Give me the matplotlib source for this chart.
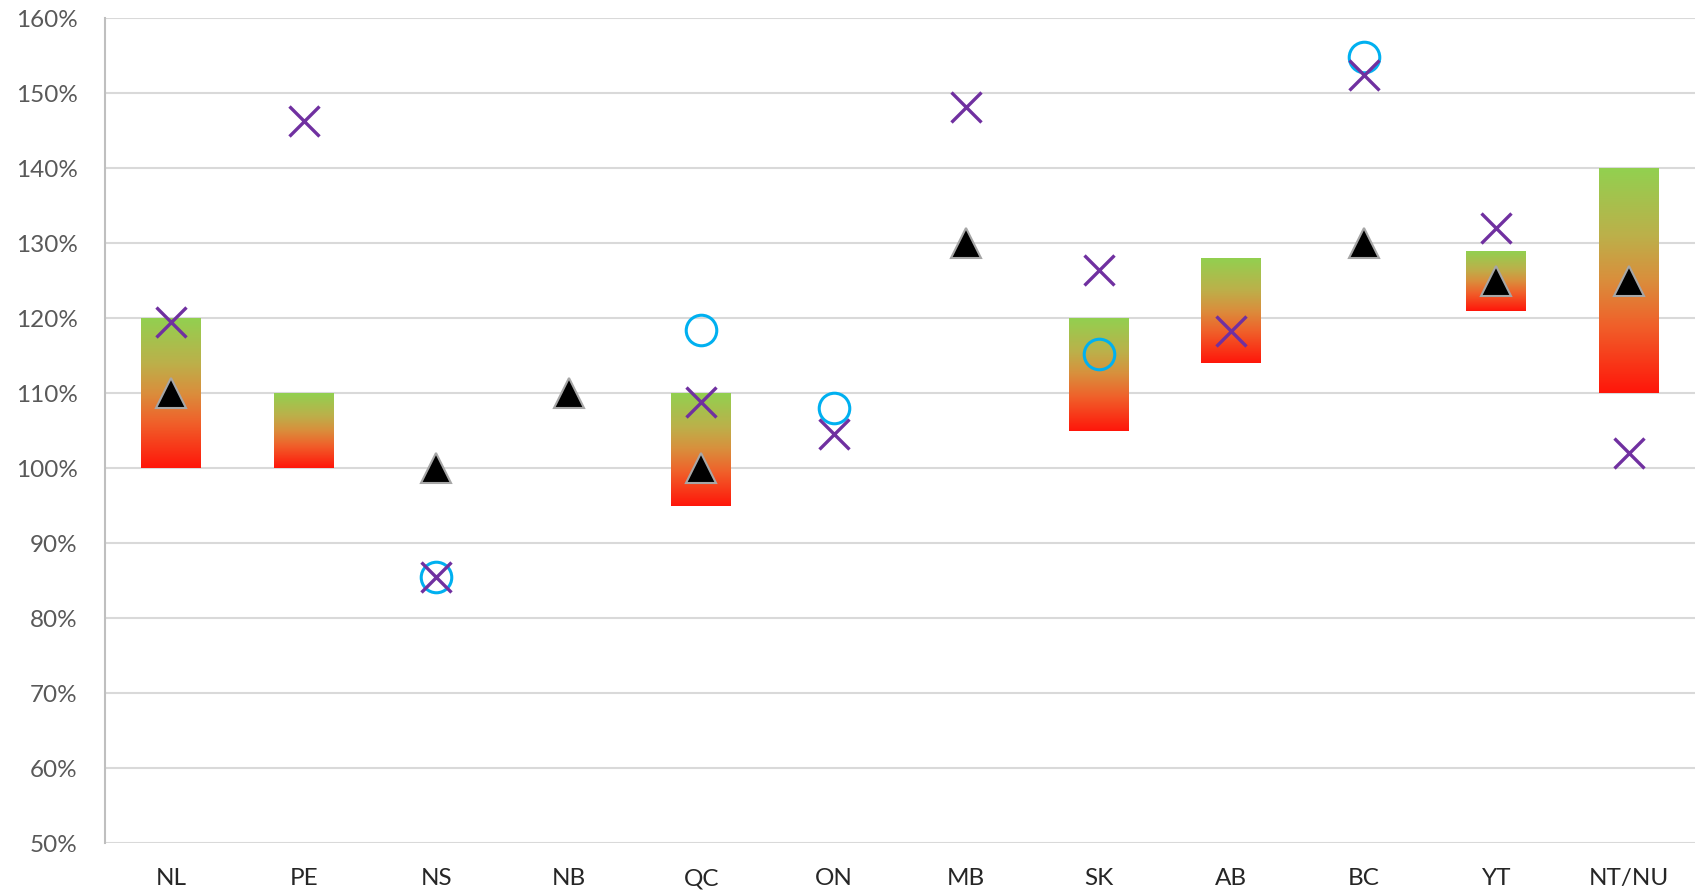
import matplotlib.pyplot as plt
import numpy as np
from matplotlib.colors import LinearSegmentedColormap
from matplotlib.ticker import FuncFormatter

plt.rcParams['font.family'] = ['Lato', 'DejaVu Sans']

# data (percent)
provinces = ["NL", "PE", "NS", "NB", "QC", "ON", "MB", "SK", "AB", "BC", "YT", "NT/NU"]
range_low = [100, 100, None, None, 95, None, None, 105, 114, None, 121, 110]
range_high = [120, 110, None, None, 110, None, None, 120, 128, None, 129, 140]
triangles = [110, None, 100, 110, 100, None, 130, None, None, 130, 125, 125]
crosses = [119.5, 146.3, 85.5, None, 108.8, 104.5, 148.2, 126.5, 118.3, 152.4, 132, 102]
circles = [None, None, 85.5, None, 118.4, 108.1, None, 115.3, None, 154.8, None, None]

grad = LinearSegmentedColormap.from_list(
    "rg", [(0.0, "#FF160A"), (0.3, "#F0602A"), (0.5, "#DA8E3C"),
           (0.7, "#BCB04A"), (1.0, "#92D050")])

fig = plt.figure(figsize=(16.95, 8.92), dpi=100)
ax = fig.add_axes([0.0619, 0.0549, 0.9381, 0.9244])

x = np.arange(len(provinces))

# floating bars with vertical gradient
for i in range(len(provinces)):
    lo, hi = range_low[i], range_high[i]
    if lo is None:
        continue
    bar = ax.bar(x[i], hi - lo, bottom=lo, width=0.45, color="none", edgecolor="none", zorder=2)[0]
    img = ax.imshow(np.linspace(0, 1, 256).reshape(-1, 1), cmap=grad, aspect="auto",
                    origin="lower", extent=[bar.get_x(), bar.get_x() + bar.get_width(), lo, hi],
                    zorder=2)
    img.set_clip_path(bar)


def pts(vals):
    xs = [x[i] for i, v in enumerate(vals) if v is not None]
    ys = [v for v in vals if v is not None]
    return xs, ys


tx, ty = pts(triangles)
ax.plot(tx, ty, linestyle="none", marker="^", markersize=22, markerfacecolor="black",
        markeredgecolor="#A6A6A6", markeredgewidth=1.5, zorder=4)

cx, cy = pts(circles)
ax.plot(cx, cy, linestyle="none", marker="o", markersize=22, markerfacecolor="none",
        markeredgecolor="#00B0F0", markeredgewidth=2.2, zorder=5)

xx, xy = pts(crosses)
ax.plot(xx, xy, linestyle="none", marker="x", markersize=22, markeredgecolor="#7030A0",
        markeredgewidth=2.4, zorder=6)

ax.set_xlim(-0.5, len(provinces) - 0.5)
ax.set_ylim(50, 160)
ax.set_yticks(np.arange(50, 161, 10))
ax.yaxis.set_major_formatter(FuncFormatter(lambda v, p: f"{v:.0f}%"))
ax.set_xticks(x)
ax.set_xticklabels(provinces)

ax.grid(axis="y", color="#D9D9D9", linewidth=1.5, zorder=0)
ax.set_axisbelow(True)
for s in ["top", "right", "bottom"]:
    ax.spines[s].set_visible(False)
ax.spines["left"].set_color("#BFBFBF")
ax.spines["left"].set_linewidth(1.5)

ax.tick_params(axis="y", length=0, pad=19.5, labelsize=17.5, labelcolor="#595959")
ax.tick_params(axis="x", length=0, pad=18, labelsize=17.5, labelcolor="#262626")

fig.savefig("out.png", dpi=100)
